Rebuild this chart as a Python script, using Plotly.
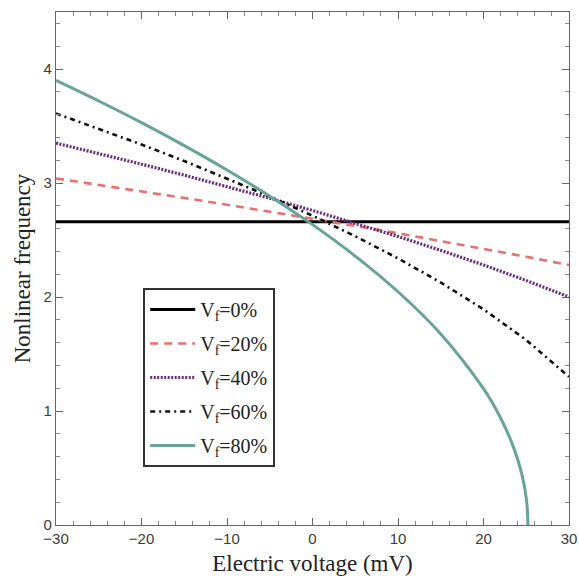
import plotly.graph_objects as go

# Electric voltage samples (mV) and the nonlinear frequency for each volume fraction
voltage = [-30, -25, -20, -15, -10, -5, 0, 5, 10, 15, 20, 25, 30]
freq_vf0 = [2.66, 2.66, 2.66, 2.66, 2.66, 2.66, 2.66, 2.66, 2.66, 2.66, 2.66, 2.66, 2.66]
freq_vf20 = [3.04, 2.984, 2.927, 2.869, 2.809, 2.749, 2.687, 2.624, 2.559, 2.492, 2.424, 2.353, 2.281]
freq_vf40 = [3.35, 3.259, 3.165, 3.069, 2.969, 2.866, 2.759, 2.647, 2.531, 2.409, 2.281, 2.145, 2.00]
freq_vf60 = [3.61, 3.476, 3.338, 3.193, 3.041, 2.882, 2.713, 2.533, 2.339, 2.127, 1.892, 1.623, 1.30]

# the 80% curve ends where the frequency vanishes, so it is sampled more finely there
voltage_vf80 = [-30, -25, -20, -15, -10, -5, 0, 5, 10, 15, 20, 21, 22, 23, 24, 24.5, 24.8, 25.0, 25.1, 25.2]
freq_vf80 = [3.90, 3.719, 3.529, 3.328, 3.114, 2.884, 2.635, 2.359, 2.046, 1.676, 1.197,
             1.076, 0.939, 0.779, 0.575, 0.439, 0.332, 0.235, 0.166, 0.0]

series = [
    ("V<sub>f</sub>=0%", voltage, freq_vf0, dict(color="#000000", width=3.2, dash="solid")),
    ("V<sub>f</sub>=20%", voltage, freq_vf20, dict(color="#e8706f", width=2.6, dash="8px,6px")),
    ("V<sub>f</sub>=40%", voltage, freq_vf40, dict(color="#6a2a80", width=3.2, dash="2px,1.5px")),
    ("V<sub>f</sub>=60%", voltage, freq_vf60, dict(color="#111111", width=2.6, dash="5px,4px,2px,4px")),
    ("V<sub>f</sub>=80%", voltage_vf80, freq_vf80, dict(color="#68a398", width=3.0, dash="solid")),
]

SERIF = "Liberation Serif"
SANS = "Liberation Sans"

fig = go.Figure()
for i, (name, xs, ys, line) in enumerate(series):
    fig.add_trace(go.Scatter(x=xs, y=ys, mode="lines", name=name, line=line,
                             line_shape="spline" if i == 4 else "linear",
                             legendgroup=f"g{i}"))

axis_common = dict(
    showline=True, linecolor="#666666", linewidth=1.2, mirror="allticks",
    ticks="inside", ticklen=7, tickwidth=1, tickcolor="#666666",
    showgrid=False, zeroline=False, automargin=False,
    tickfont=dict(family=SANS, size=15, color="#3a3a3a"),
    minor=dict(ticks="inside", ticklen=4, tickwidth=1, tickcolor="#888888"),
)

fig.update_xaxes(
    range=[-30, 30], tickvals=[-30, -20, -10, 0, 10, 20, 30],
    ticktext=["\u221230", "\u221220", "\u221210", "0", "10", "20", "30"],
    minor_dtick=2,
    title=dict(text="Electric voltage (mV)", standoff=8,
               font=dict(family=SERIF, size=23, color="#222222")),
    **axis_common,
)
fig.update_yaxes(
    range=[0, 4.5], tickvals=[0, 1, 2, 3, 4],
    minor_dtick=0.2,
    title=dict(text="Nonlinear frequency", standoff=6,
               font=dict(family=SERIF, size=23, color="#222222")),
    **axis_common,
)

fig.update_layout(
    width=579, height=584,
    margin=dict(l=56, r=10, t=12, b=59),
    paper_bgcolor="white", plot_bgcolor="white",
    legend=dict(
        x=0.17, y=0.462, xanchor="left", yanchor="top",
        bordercolor="#333333", borderwidth=2, bgcolor="white",
        font=dict(family=SERIF, size=20, color="#222222"),
        itemwidth=45, tracegroupgap=5,
    ),
)

fig.write_html("out.html")
